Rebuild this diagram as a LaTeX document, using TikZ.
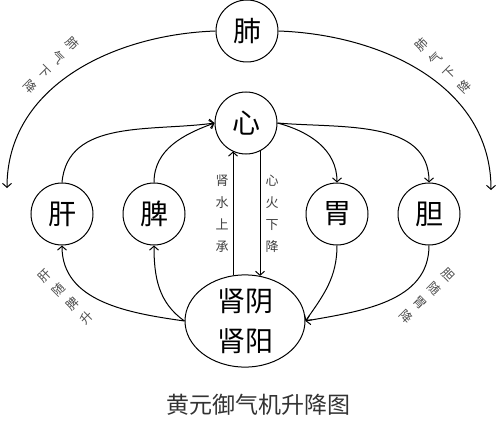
\documentclass[tikz,border=0pt]{standalone}
\usepackage{fontspec}
\setmainfont{Noto Sans CJK SC}
\usetikzlibrary{arrows.meta,shapes.geometric,calc}
\tikzstyle{zang}=[circle,draw=black,line width=1pt,inner sep=0pt,
  minimum size=62pt,font=\fontsize{28}{30}\selectfont]
\tikzstyle{shen}=[ellipse,draw=black,line width=1pt,inner sep=0pt,
  minimum width=120pt,minimum height=92pt,align=center,font=\fontsize{28}{40}\selectfont]
\tikzstyle{col}=[align=center,inner sep=0pt,text=black!75,font=\fontsize{13}{22}\selectfont]
\tikzstyle{slant}=[align=center,inner sep=0pt,text=black!70,font=\fontsize{12.5}{20}\selectfont]
\tikzstyle{flow}=[line width=1pt,-{Straight Barb[length=4pt,width=9pt]}]
\tikzstyle{none}=[]

\begin{document}
\begin{tikzpicture}[x=1pt,y=1pt]
		\useasboundingbox (0,0) rectangle (500,429);
		\node [style=zang] (0) at (247, 398) {肺};
		\node [style=zang] (1) at (246, 306) {心};
		\node [style=zang] (2) at (62, 215) {肝};
		\node [style=zang] (3) at (154, 215) {脾};
		\node [style=zang] (4) at (337, 215) {胃};
		\node [style=zang] (5) at (429, 215) {胆};
		\node [style=shen] (6) at (245, 108) {肾阴\\肾阳};
		\coordinate (7) at (7, 241);
		\coordinate (8) at (491, 239);
		\node [style=slant, rotate=-45] (9) at (51, 364) {肺\\气\\下\\降};
		\node [style=slant, rotate=45] (10) at (443, 363) {肺\\气\\下\\降};
		\node [style=col] (11) at (222, 215) {肾\\水\\上\\承};
		\node [style=col] (12) at (272, 215) {心\\火\\下\\降};
		\node [style=slant, rotate=45] (13) at (66, 132) {肝\\随\\脾\\升};
		\node [style=slant, rotate=-45] (14) at (427, 133) {胆\\随\\胃\\降};
		\node [style=none, text=black!80, font=\fontsize{23}{25}\selectfont] (15) at (258, 24) {黄元御气机升降图};
		\draw [style=flow] (0.west) to [out=182, in=90] (7);
		\draw [style=flow] (0.east) to [out=-2, in=90] (8);
		\draw [style=flow] (2.north) to [out=85, in=188] (1.west);
		\draw [style=flow] (3.north) to [out=90, in=200] (1.west);
		\draw [style=flow] (1.east) to [out=-15, in=90] (4.north);
		\draw [style=flow] (1.east) to [out=-5, in=90] (5.north);
		\draw [style=flow] (4.south) to [out=-90, in=55] (6.east);
		\draw [style=flow] (5.south) to [out=-90, in=10] (6.east);
		\draw [style=flow] (6.west) to [out=172, in=-90] (2.south);
		\draw [style=flow] (6.west) to [out=145, in=-90] (3.south);
		\draw [style=flow] ($(6.north)+(-12,-1)$) to ($(1.south)+(-13,3)$);
		\draw [style=flow] ($(1.south)+(14,3.5)$) to ($(6.north)+(15,-1.5)$);
\end{tikzpicture}
\end{document}
